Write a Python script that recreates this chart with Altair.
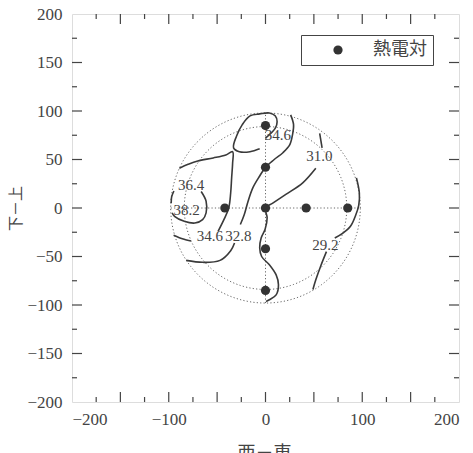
import altair as alt
import numpy as np
import pandas as pd

# ---- thermocouple positions (west-east, down-up) ----
tc_x = [0, 0, 0, -42, 42, 85, 0, 0]
tc_y = [85, 42, 0, 0, 0, 0, -42, -85]

# ---- guide geometry ----
guide_radii = [84, 98]
cross_extent = 98

# ---- isotherm polylines (x, y) ----
c346_loop = [(0, 72), (10, 82), (12, 89), (10, 95), (4, 98), (-6, 97), (-16, 95),
             (-24, 86), (-30, 74), (-33, 62), (-27, 58), (-16, 58), (-6, 61)]
c346_left = [(-89, 41), (-80, 45), (-70, 48.5), (-54, 51.6), (-41, 54.7), (-34, 58),
             (-34, 46), (-35, 31), (-36, 15.5), (-38, 0), (-43, -12), (-49, -24)]
c346_tail = [(-77, -34), (-85, -32), (-95, -28)]
c328 = [(26, 96), (29, 86), (28, 76), (25, 65), (18, 57), (9, 50), (0, 42),
        (-6, 33), (-13, 21), (-18, 7), (-22, -7), (-26, -17)]
c328_tail = [(-32, -36), (-36, -44), (-47, -54), (-65, -56), (-82, -54)]
c310_head = [(56, 77), (58.5, 62)]
c310 = [(52, 41), (38.5, 26), (21, 14), (7.5, 5), (0, 0), (1.7, -10), (-0.4, -22),
        (-4.5, -31), (-6, -41), (-4, -50), (4, -58.5), (11, -69), (13.4, -79),
        (11, -89.5), (4, -94.6), (0.6, -96.3)]
c292 = [(94, 31), (97, 15.5), (96.4, 3), (93, -8), (88, -18.6), (80, -26), (71.6, -31)]
c292_tail = [(63, -45), (57, -60), (52, -74), (49, -84)]
c364 = [(-66.5, 17), (-61.4, 7), (-61.4, -5), (-65, -12), (-73, -15.5), (-84, -13.7),
        (-94, -8.6), (-96.5, -5)]
c382 = [(-94.7, 17.5), (-97, 11.4), (-97.5, 5)]

# ---- isotherm labels ----
lab_text = ["34.6", "31.0", "36.4", "38.2", "34.6", "32.8", "29.2"]
lab_x = [12.7, 55.6, -77, -81.5, -57.5, -28, 62]
lab_y = [75.6, 53.4, 23.7, -2, -29, -29, -38]

# ---- axis ticks ----
major_ticks = [-150, -100, -50, 0, 50, 100, 150]
minor_ticks = [-175, -125, -75, -25, 25, 75, 125, 175]
axis_values = [-200, -150, -100, -50, 0, 50, 100, 150, 200]

W, H = 387, 388
INK = "#3a3a3a"
SERIF = "Liberation Serif"
CJK = "Noto Sans CJK JP"

xs = alt.Scale(domain=[-200, 200], nice=False, zero=False)
ys = alt.Scale(domain=[-200, 200], nice=False, zero=False)

x_axis = alt.Axis(values=axis_values, ticks=False, domain=False, grid=False,
                  labelFont=SERIF, labelFontSize=17, labelColor="#444", labelPadding=9,
                  title="西－東", titleFont=CJK, titleFontSize=18, titleFontWeight="normal",
                  titleColor="#444", titleX=192, titleY=42, titleBaseline="top",
                  titleAlign="center")
y_axis = alt.Axis(values=axis_values, ticks=False, domain=False, grid=False,
                  labelFont=SERIF, labelFontSize=17, labelColor="#444", labelPadding=10,
                  title="下－上", titleFont=CJK, titleFontSize=15, titleFontWeight="normal",
                  titleColor="#444", titleX=-57, titleY=194, titleBaseline="middle",
                  titleAlign="center")


def X(field):
    return alt.X(field, type="quantitative", scale=xs, axis=x_axis)


def Y(field):
    return alt.Y(field, type="quantitative", scale=ys, axis=y_axis)


# guide circles
rows = []
for r in guide_radii:
    for i, t in enumerate(np.linspace(0, 2 * np.pi, 181)):
        rows.append({"r": r, "i": i, "x": r * np.cos(t), "y": r * np.sin(t)})
circ_df = pd.DataFrame(rows)

circles = alt.Chart(circ_df).mark_line(color="#666", strokeWidth=1, strokeDash=[1.2, 2.2]).encode(
    x=X("x"), y=Y("y"), detail="r:N", order="i:Q")

cross_df = pd.DataFrame({
    "seg": ["h", "h", "v", "v"],
    "x": [-cross_extent, cross_extent, 0, 0],
    "y": [0, 0, -cross_extent, cross_extent],
})
cross = alt.Chart(cross_df).mark_line(color="#666", strokeWidth=1, strokeDash=[1.2, 2.2]).encode(
    x=X("x"), y=Y("y"), detail="seg:N")

# isotherms
segments = {
    "c346_loop": c346_loop, "c346_left": c346_left, "c346_tail": c346_tail,
    "c328": c328, "c328_tail": c328_tail, "c310_head": c310_head, "c310": c310,
    "c292": c292, "c292_tail": c292_tail, "c364": c364, "c382": c382,
}
iso_rows = []
for name, pts in segments.items():
    for i, (px, py) in enumerate(pts):
        iso_rows.append({"seg": name, "i": i, "x": px, "y": py})
iso_df = pd.DataFrame(iso_rows)

isotherms = alt.Chart(iso_df).mark_line(color=INK, strokeWidth=1.6, interpolate="catmull-rom").encode(
    x=X("x"), y=Y("y"), detail="seg:N", order="i:Q")

lab_df = pd.DataFrame({"t": lab_text, "x": lab_x, "y": lab_y})
labels = alt.Chart(lab_df).mark_text(font=SERIF, fontSize=15, color="#444").encode(
    x=X("x"), y=Y("y"), text="t:N")

# inward ticks on all four sides
maj_df = pd.DataFrame({"v": major_ticks})
min_df = pd.DataFrame({"v": minor_ticks})
tick_layers = []
for df, ln in ((maj_df, 10), (min_df, 5)):
    base = alt.Chart(df).mark_rule(color="#444", strokeWidth=1.2)
    tick_layers += [
        base.encode(x=X("v"), y=alt.value(H), y2=alt.value(H - ln)),
        base.encode(x=X("v"), y=alt.value(0), y2=alt.value(ln)),
        base.encode(y=Y("v"), x=alt.value(0), x2=alt.value(ln)),
        base.encode(y=Y("v"), x=alt.value(W), x2=alt.value(W - ln)),
    ]

tc_df = pd.DataFrame({"x": tc_x, "y": tc_y, "kind": ["熱電対"] * len(tc_x)})
points = alt.Chart(tc_df).mark_point(filled=True, shape="circle", size=85, opacity=1).encode(
    x=X("x"), y=Y("y"),
    color=alt.Color("kind:N", scale=alt.Scale(range=["#333333"]),
                    legend=alt.Legend(title=None, orient="none", legendX=229, legendY=21,
                                      strokeColor="#444", fillColor="white", padding=6,
                                      symbolOffset=22, labelOffset=26, symbolSize=85,
                                      symbolType="circle", labelFont=CJK, labelFontSize=18,
                                      labelColor="#444")),
)

chart = alt.layer(circles, cross, isotherms, labels, *tick_layers, points).properties(
    width=W, height=H,
    autosize=alt.AutoSizeParams(type="none"),
    padding={"left": 72, "top": 14, "right": 14, "bottom": 51},
).configure_view(stroke="#444", strokeWidth=1.3).configure_axis(
    labelFont=SERIF, titleFont=CJK
).configure(background="white")

chart.save("out.html", embed_options={"renderer": "svg", "actions": False})
